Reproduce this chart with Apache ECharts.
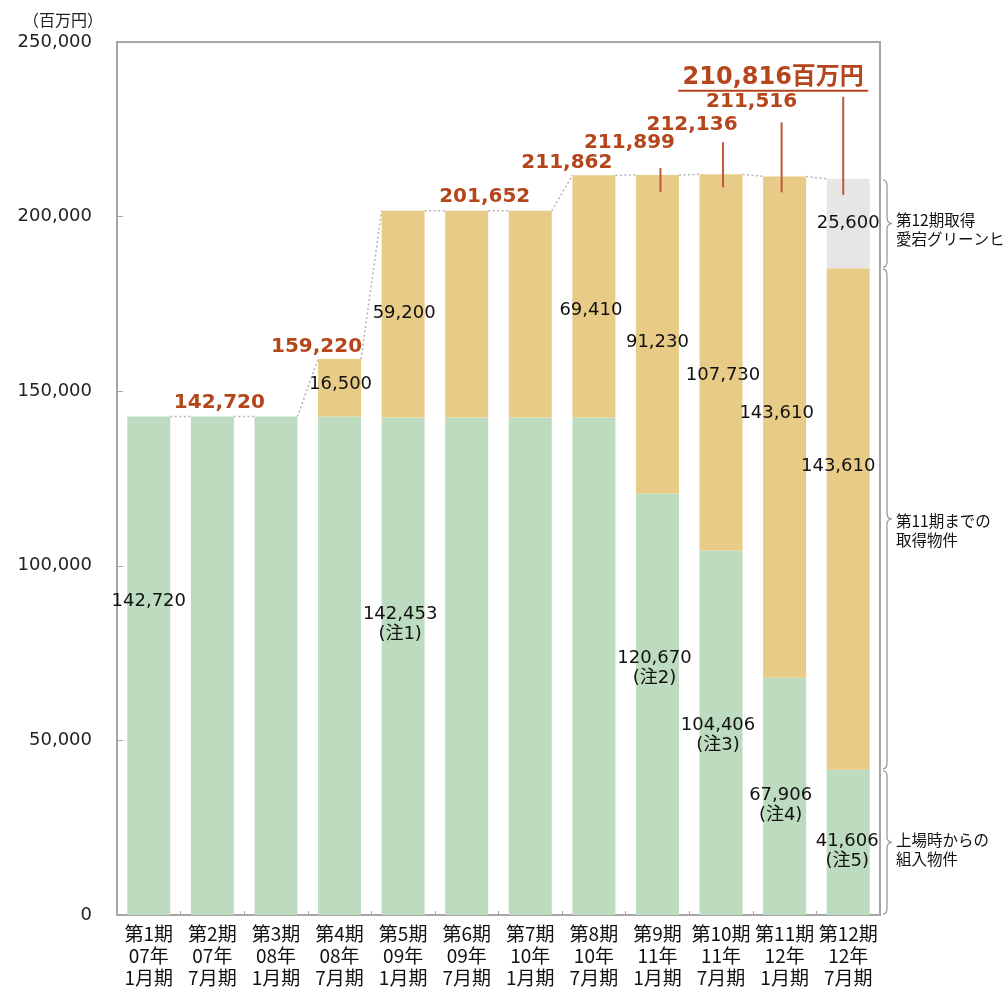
<!DOCTYPE html>
<html><head><meta charset="utf-8">
<script src="https://cdn.jsdelivr.net/npm/echarts@6/dist/echarts.min.js"></script>
<style>html,body{margin:0;padding:0;background:#fff}#c{width:1004px;height:992px}</style>
</head><body><div id="c"></div>
<script>
// ---- data ----
const categories = ['第1期\n07年\n1月期','第2期\n07年\n7月期','第3期\n08年\n1月期','第4期\n08年\n7月期','第5期\n09年\n1月期','第6期\n09年\n7月期','第7期\n10年\n1月期','第8期\n10年\n7月期','第9期\n11年\n1月期','第10期\n11年\n7月期','第11期\n12年\n1月期','第12期\n12年\n7月期'];
const initialProps = [142720,142720,142720,142720,142453,142453,142453,142453,120670,104406,67906,41606];
const acquiredBy11 = [0,0,0,16500,59200,59200,59200,69410,91230,107730,143610,143610];
const acquired12 = [0,0,0,0,0,0,0,0,0,0,0,25600];
const totalLabels = [null,142720,null,159220,null,201652,null,211862,211899,212136,211516,210816];
const greenNotes = ['',null,null,null,'(注1)',null,null,null,'(注2)','(注3)','(注4)','(注5)'];
const tanShown = [false,false,false,true,true,false,false,true,true,true,true,true];
const braceTexts = ['上場時からの\n組入物件','第11期までの\n取得物件','第12期取得\n愛宕グリーンヒ'];
const unitLabel = '（百万円）';
const totalUnit = '百万円';
const yTicks = {min:0, max:250000, interval:50000};

// ---- styles ----
const C_GREEN='#bddbbf', C_TAN='#e8cb87', C_GRAY='#e6e6e6', C_RED='#b5461b', C_AXIS='#a6a6a6';
const BAR_W = 43;
const NUM_FONT = "'DejaVu Sans','Noto Sans CJK JP',sans-serif";
const JP_FONT = "'Noto Sans CJK JP',sans-serif";
const GREEN_OFF = {0:[0,-64],4:[-3,-42],8:[-3,-36],9:[-3,3],10:[-4,9],11:[-1,9]};
const TAN_OFF = {3:[1,-3],4:[1,-1],7:[-3,14],8:[0,8],9:[2,13],10:[-8,-14],11:[-10,-53]};
const TOTAL_OFF = {1:[7,-14],3:[-23,-12],5:[18,-14],7:[-27,-12],8:[-28,-32],9:[-29,-49],10:[-33,-75],11:[-75,-101]};
const LEADERS = {8:[3,-7,17],9:[2,-32,13],10:[-3,-54,16],11:[-5,-82,16]};
const BRACE_TEXT_DY = [7,12,6];

function fmt(v){return String(v).replace(/\B(?=(\d{3})+(?!\d))/g, ',');}

const labelBase = {fontFamily:NUM_FONT, fontSize:18, color:'#111', lineHeight:20, position:'inside'};

const greenData = initialProps.map((v,i)=>{
  const note = greenNotes[i];
  if (note === null) return {value:v, label:{show:false}};
  return {value:v, label:Object.assign({show:true, formatter: fmt(v)+(note?'\n'+note:''), offset:GREEN_OFF[i]||[0,0]}, labelBase)};
});
const tanData = acquiredBy11.map((v,i)=>{
  if (!tanShown[i] || !v) return {value:v, label:{show:false}};
  return {value:v, label:Object.assign({show:true, formatter: fmt(v), offset:TAN_OFF[i]||[0,0]}, labelBase)};
});
const grayData = acquired12.map((v,i)=>{
  if (!v) return {value:v, label:{show:false}};
  return {value:v, label:Object.assign({show:true, formatter: fmt(v), offset:[0,0]}, labelBase)};
});

const stackTop = initialProps.map((v,i)=>v+acquiredBy11[i]+acquired12[i]);
const connectorData = [];
for (let i=0;i<categories.length-1;i++) connectorData.push([i, stackTop[i], stackTop[i+1]]);
const totalData = totalLabels.map((v,i)=> v==null?null:[i,v]).filter(Boolean);
const last = categories.length-1;
const braceData = [
  [last, 0, initialProps[last], 0],
  [last, initialProps[last], initialProps[last]+acquiredBy11[last], 1],
  [last, initialProps[last]+acquiredBy11[last], stackTop[last], 2]
];

const chart = echarts.init(document.getElementById('c'));
chart.setOption({
  animation:false,
  backgroundColor:'#fff',
  title:{text:unitLabel, left:18, top:7, textStyle:{fontFamily:JP_FONT, fontSize:16, fontWeight:'normal', color:'#222'}},
  grid:{left:117, right:124, top:42, bottom:77, show:true, borderColor:C_AXIS, borderWidth:2, containLabel:false},
  xAxis:{type:'category', data:categories,
    axisLine:{lineStyle:{color:C_AXIS, width:2}},
    axisTick:{show:true, inside:true, length:4, lineStyle:{color:C_AXIS}},
    axisLabel:{interval:0, margin:8, fontFamily:JP_FONT, fontSize:19, lineHeight:22, color:'#111'}},
  yAxis:{type:'value', min:yTicks.min, max:yTicks.max, interval:yTicks.interval,
    splitLine:{show:false},
    axisLine:{show:true, lineStyle:{color:C_AXIS, width:2}},
    axisTick:{show:true, inside:true, length:6, lineStyle:{color:C_AXIS}},
    axisLabel:{formatter:v=>fmt(v), margin:25, fontFamily:NUM_FONT, fontSize:18, color:'#222'}},
  series:[
    {type:'bar', stack:'s', barWidth:BAR_W, data:greenData, itemStyle:{color:C_GREEN}, z:2},
    {type:'bar', stack:'s', barWidth:BAR_W, data:tanData, itemStyle:{color:C_TAN}, z:2},
    {type:'bar', stack:'s', barWidth:BAR_W, data:grayData, itemStyle:{color:C_GRAY}, z:2},
    {type:'custom', data:connectorData, encode:{x:0,y:[1,2]}, z:3, clip:false, silent:true,
      renderItem:(params, api)=>{
        const i=api.value(0);
        const p0=api.coord([i, api.value(1)]), p1=api.coord([i+1, api.value(2)]);
        return {type:'line', shape:{x1:p0[0]+BAR_W/2, y1:p0[1], x2:p1[0]-BAR_W/2, y2:p1[1]},
          style:{stroke:'#b4b4b4', lineWidth:1.5, lineDash:[2,2.5]}};
      }},
    {type:'custom', data:totalData, encode:{x:0,y:1}, z:5, clip:false, silent:true,
      renderItem:(params, api)=>{
        const i=api.value(0), v=api.value(1);
        const p=api.coord([i,v]);
        const off=TOTAL_OFF[i]||[0,-14];
        const isLast = i===last;
        const children=[];
        const ld=LEADERS[i];
        if (ld) children.push({type:'line', shape:{x1:p[0]+ld[0], y1:p[1]+ld[1], x2:p[0]+ld[0], y2:p[1]+ld[2]},
          style:{stroke:'#b85a38', lineWidth:2}});
        const tx=p[0]+off[0], ty=p[1]+off[1];
        children.push({type:'text', x:tx, y:ty, style:{text: fmt(v)+(isLast?totalUnit:''), fill:C_RED,
          fontFamily:NUM_FONT, fontWeight:'bold', fontSize: isLast?24:20, align:'center', verticalAlign:'middle'}});
        if (isLast) children.push({type:'line', shape:{x1:tx-95, y1:ty+13, x2:tx+95, y2:ty+13}, style:{stroke:C_RED, lineWidth:2}});
        return {type:'group', children};
      }},
    {type:'custom', data:braceData, encode:{x:0,y:[1,2]}, z:5, clip:false, silent:true,
      renderItem:(params, api)=>{
        const i=api.value(0), k=api.value(3);
        const pa=api.coord([i, api.value(1)]), pb=api.coord([i, api.value(2)]);
        const band=api.size([1,0])[0];
        const x0=pa[0]+band/2+3, xs=x0+4, xt=x0+9;
        const y0=pb[1]+1, y1=pa[1]-1, m=(y0+y1)/2, r=6;
        const d=`M${x0},${y0} Q${xs},${y0} ${xs},${y0+r} L${xs},${m-r} Q${xs},${m} ${xt},${m} Q${xs},${m} ${xs},${m+r} L${xs},${y1-r} Q${xs},${y1} ${x0},${y1}`;
        return {type:'group', children:[
          {type:'path', shape:{pathData:d}, style:{stroke:'#9a9a9a', lineWidth:1.3, fill:null}},
          {type:'text', x:xt+4, y:m+BRACE_TEXT_DY[k], style:{text:braceTexts[k], fill:'#111', fontFamily:JP_FONT, fontSize:15.5, lineHeight:19, align:'left', verticalAlign:'middle'}}
        ]};
      }}
  ]
});
</script></body></html>
